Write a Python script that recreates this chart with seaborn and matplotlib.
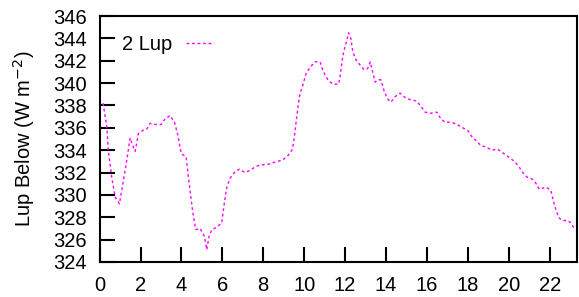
import pandas as pd
import matplotlib.pyplot as plt
import seaborn as sns

# Hour of day and upwelling longwave
hours = [0.17, 0.35, 0.43, 0.60, 0.76, 0.97, 1.08, 1.25, 1.38, 1.49, 1.60, 1.74, 1.90,
         2.14, 2.31, 2.47, 2.71, 3.01, 3.20, 3.45, 3.66, 3.82, 3.99, 4.23, 4.34, 4.46,
         4.56, 4.70, 4.91, 5.12, 5.24, 5.35, 5.49, 5.73, 5.97, 6.05, 6.14, 6.22, 6.38,
         6.63, 6.84, 7.11, 7.36, 7.60, 7.88, 8.13, 8.39, 8.66, 8.94, 9.20, 9.40, 9.48,
         9.56, 9.64, 9.72, 9.80, 9.93, 10.10, 10.33, 10.54, 10.78, 10.90, 11.03, 11.19,
         11.43, 11.68, 11.76, 11.84, 11.92, 12.05, 12.17, 12.28, 12.38, 12.53, 12.74,
         12.93, 13.10, 13.23, 13.36, 13.47, 13.63, 13.75, 13.91, 14.07, 14.24, 14.45,
         14.69, 14.94, 15.22, 15.51, 15.71, 15.92, 16.16, 16.49, 16.68, 16.89, 17.19,
         17.47, 17.76, 18.03, 18.20, 18.44, 18.64, 18.87, 19.18, 19.45, 19.75, 19.99,
         20.27, 20.48, 20.64, 20.89, 21.16, 21.34, 21.50, 21.83, 22.06, 22.19, 22.32,
         22.44, 22.60, 22.88, 23.04, 23.22]
lup = [338.2, 336.1, 333.9, 331.5, 329.8, 329.2, 330.4, 332.2, 333.7, 335.1, 334.5, 333.9, 335.5,
       335.8, 335.9, 336.4, 336.3, 336.3, 336.8, 337.1, 336.5, 335.4, 333.7, 333.4, 331.6, 329.8,
       328.4, 326.9, 327.0, 326.3, 325.1, 326.3, 326.9, 327.1, 327.5, 328.6, 329.8, 330.7, 331.5,
       332.1, 332.3, 332.0, 332.2, 332.5, 332.7, 332.7, 332.8, 333.0, 333.1, 333.5, 334.0, 334.6,
       335.8, 337.0, 338.2, 339.1, 339.8, 340.9, 341.5, 341.9, 341.9, 341.2, 340.7, 340.2,
       339.9, 339.9, 340.6, 341.8, 342.7, 343.6, 344.5, 344.0, 342.8, 342.1, 341.6,
       341.2, 341.3, 341.9, 340.9, 340.1, 340.3, 340.3, 339.3, 338.6, 338.3, 338.8,
       339.1, 338.7, 338.5, 338.4, 337.9, 337.4, 337.3, 337.4, 336.8, 336.5, 336.5,
       336.3, 336.0, 335.7, 335.2, 334.8, 334.4, 334.3, 334.0, 334.1, 333.7, 333.4,
       333.0, 332.6, 332.1, 331.6, 331.4, 331.0, 330.5, 330.7, 330.4, 329.4, 328.6,
       328.0, 327.7, 327.7, 327.5, 326.9]

df = pd.DataFrame({'hour': hours, 'lup': lup})

sns.set_style('white')
plt.rcParams['font.family'] = ['Liberation Sans', 'DejaVu Sans']
plt.rcParams['text.color'] = 'black'
plt.rcParams['axes.labelcolor'] = 'black'
plt.rcParams['xtick.color'] = 'black'
plt.rcParams['ytick.color'] = 'black'

fig = plt.figure(figsize=(5.79, 2.97), dpi=100)
ax = fig.add_axes([0.172, 0.118, 0.825, 0.828])

sns.lineplot(data=df, x='hour', y='lup', ax=ax, color='magenta',
             linewidth=1.0, linestyle=(0, (2, 2)), label='2 Lup')

ax.set_xlim(0, 23.35)
ax.set_ylim(324, 346)
ax.set_xticks(range(0, 23, 2))
ax.set_yticks(range(324, 347, 2))
ax.tick_params(axis='both', direction='in', length=11, width=1.5, labelsize=14.5,
               left=True, bottom=True, top=False, right=False)
ax.tick_params(axis='y', pad=9)
ax.tick_params(axis='x', pad=10)
for s in ax.spines.values():
    s.set_linewidth(1.5)
    s.set_color('black')

ax.set_xlabel('')
ax.set_ylabel('Lup Below (W m$^{-2}$)', fontsize=14.5, labelpad=12)
ax.legend(loc='upper left', frameon=False, markerfirst=False, fontsize=14.5,
          handlelength=1.4, handletextpad=0.7, borderpad=0, borderaxespad=0,
          bbox_to_anchor=(0.046, 0.922))

fig.savefig('out.png', dpi=100)
